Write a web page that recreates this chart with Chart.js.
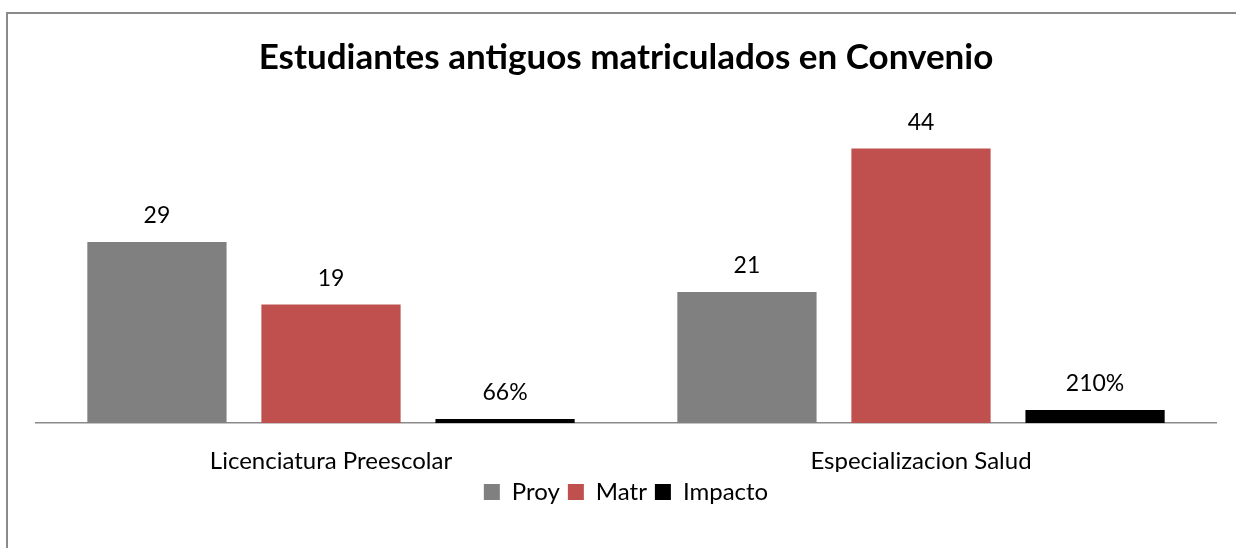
<!DOCTYPE html>
<html>
<head>
<meta charset="utf-8">
<script src="https://cdn.jsdelivr.net/npm/chart.js@4/dist/chart.umd.min.js"></script>
<style>
  html, body { margin: 0; padding: 0; background: #fff; }
  #wrap { position: relative; width: 1236px; height: 548px; overflow: hidden; }
  #c { position: absolute; left: 0; top: 0; }
  #frame { position: absolute; left: 6px; top: 12px; width: 1240px; height: 545px;
           border-left: 2px solid #8a8a8a; border-top: 2px solid #8a8a8a; pointer-events: none; }
</style>
</head>
<body>
<div id="wrap">
  <canvas id="c" width="1236" height="548"></canvas>
  <div id="frame"></div>
</div>
<script>
const categories = ["Licenciatura Preescolar", "Especializacion Salud"];
const seriesNames = ["Proy", "Matr", "Impacto"];
const proy = [29, 21];
const matr = [19, 44];
const impacto = [0.66, 2.10];
const colors = ["#808080", "#C0504D", "#000000"];

const FONT = "Lato, 'Open Sans', sans-serif";

const labelPlugin = {
  id: 'valueLabels',
  afterDatasetsDraw(chart) {
    const ctx = chart.ctx;
    ctx.save();
    ctx.font = "23px " + FONT;
    ctx.fillStyle = "#000";
    ctx.textAlign = "center";
    ctx.textBaseline = "middle";
    chart.data.datasets.forEach((ds, di) => {
      const meta = chart.getDatasetMeta(di);
      meta.data.forEach((bar, i) => {
        const v = ds.data[i];
        const txt = ds.isPercent ? Math.round(v * 100) + "%" : String(v);
        ctx.fillText(txt, bar.x, bar.y - 26);
      });
    });
    ctx.restore();
  }
};

new Chart(document.getElementById('c'), {
  type: 'bar',
  data: {
    labels: categories,
    datasets: [
      { label: seriesNames[0], data: proy, backgroundColor: colors[0], borderWidth: 0 },
      { label: seriesNames[1], data: matr, backgroundColor: colors[1], borderWidth: 0 },
      { label: seriesNames[2], data: impacto, backgroundColor: colors[2], borderWidth: 0, isPercent: true }
    ]
  },
  options: {
    responsive: false,
    animation: false,
    devicePixelRatio: 1,
    layout: { padding: { left: 36, right: 20, top: 0, bottom: 34 } },
    datasets: { bar: { barPercentage: 0.8, categoryPercentage: 0.885 } },
    plugins: {
      title: {
        display: true,
        text: "Estudiantes antiguos matriculados en Convenio",
        color: "#000",
        font: { family: FONT, size: 35, weight: 'bold' },
        padding: { top: 37, bottom: 32 }
      },
      legend: {
        position: 'bottom',
        labels: {
          color: "#000",
          font: { family: FONT, size: 24, lineHeight: 0.55 },
          boxWidth: 16,
          boxHeight: 16,
          padding: 8
        }
      },
      tooltip: { enabled: false }
    },
    scales: {
      x: {
        grid: { display: false, drawTicks: false },
        border: { display: true, color: "#8a8a8a", width: 1.5 },
        ticks: { color: "#000", font: { family: FONT, size: 24 }, padding: 24 },
        afterFit(s) { s.height = 49; }
      },
      y: { display: false, min: 0, max: 50 }
    }
  },
  plugins: [labelPlugin]
});
</script>
</body>
</html>
